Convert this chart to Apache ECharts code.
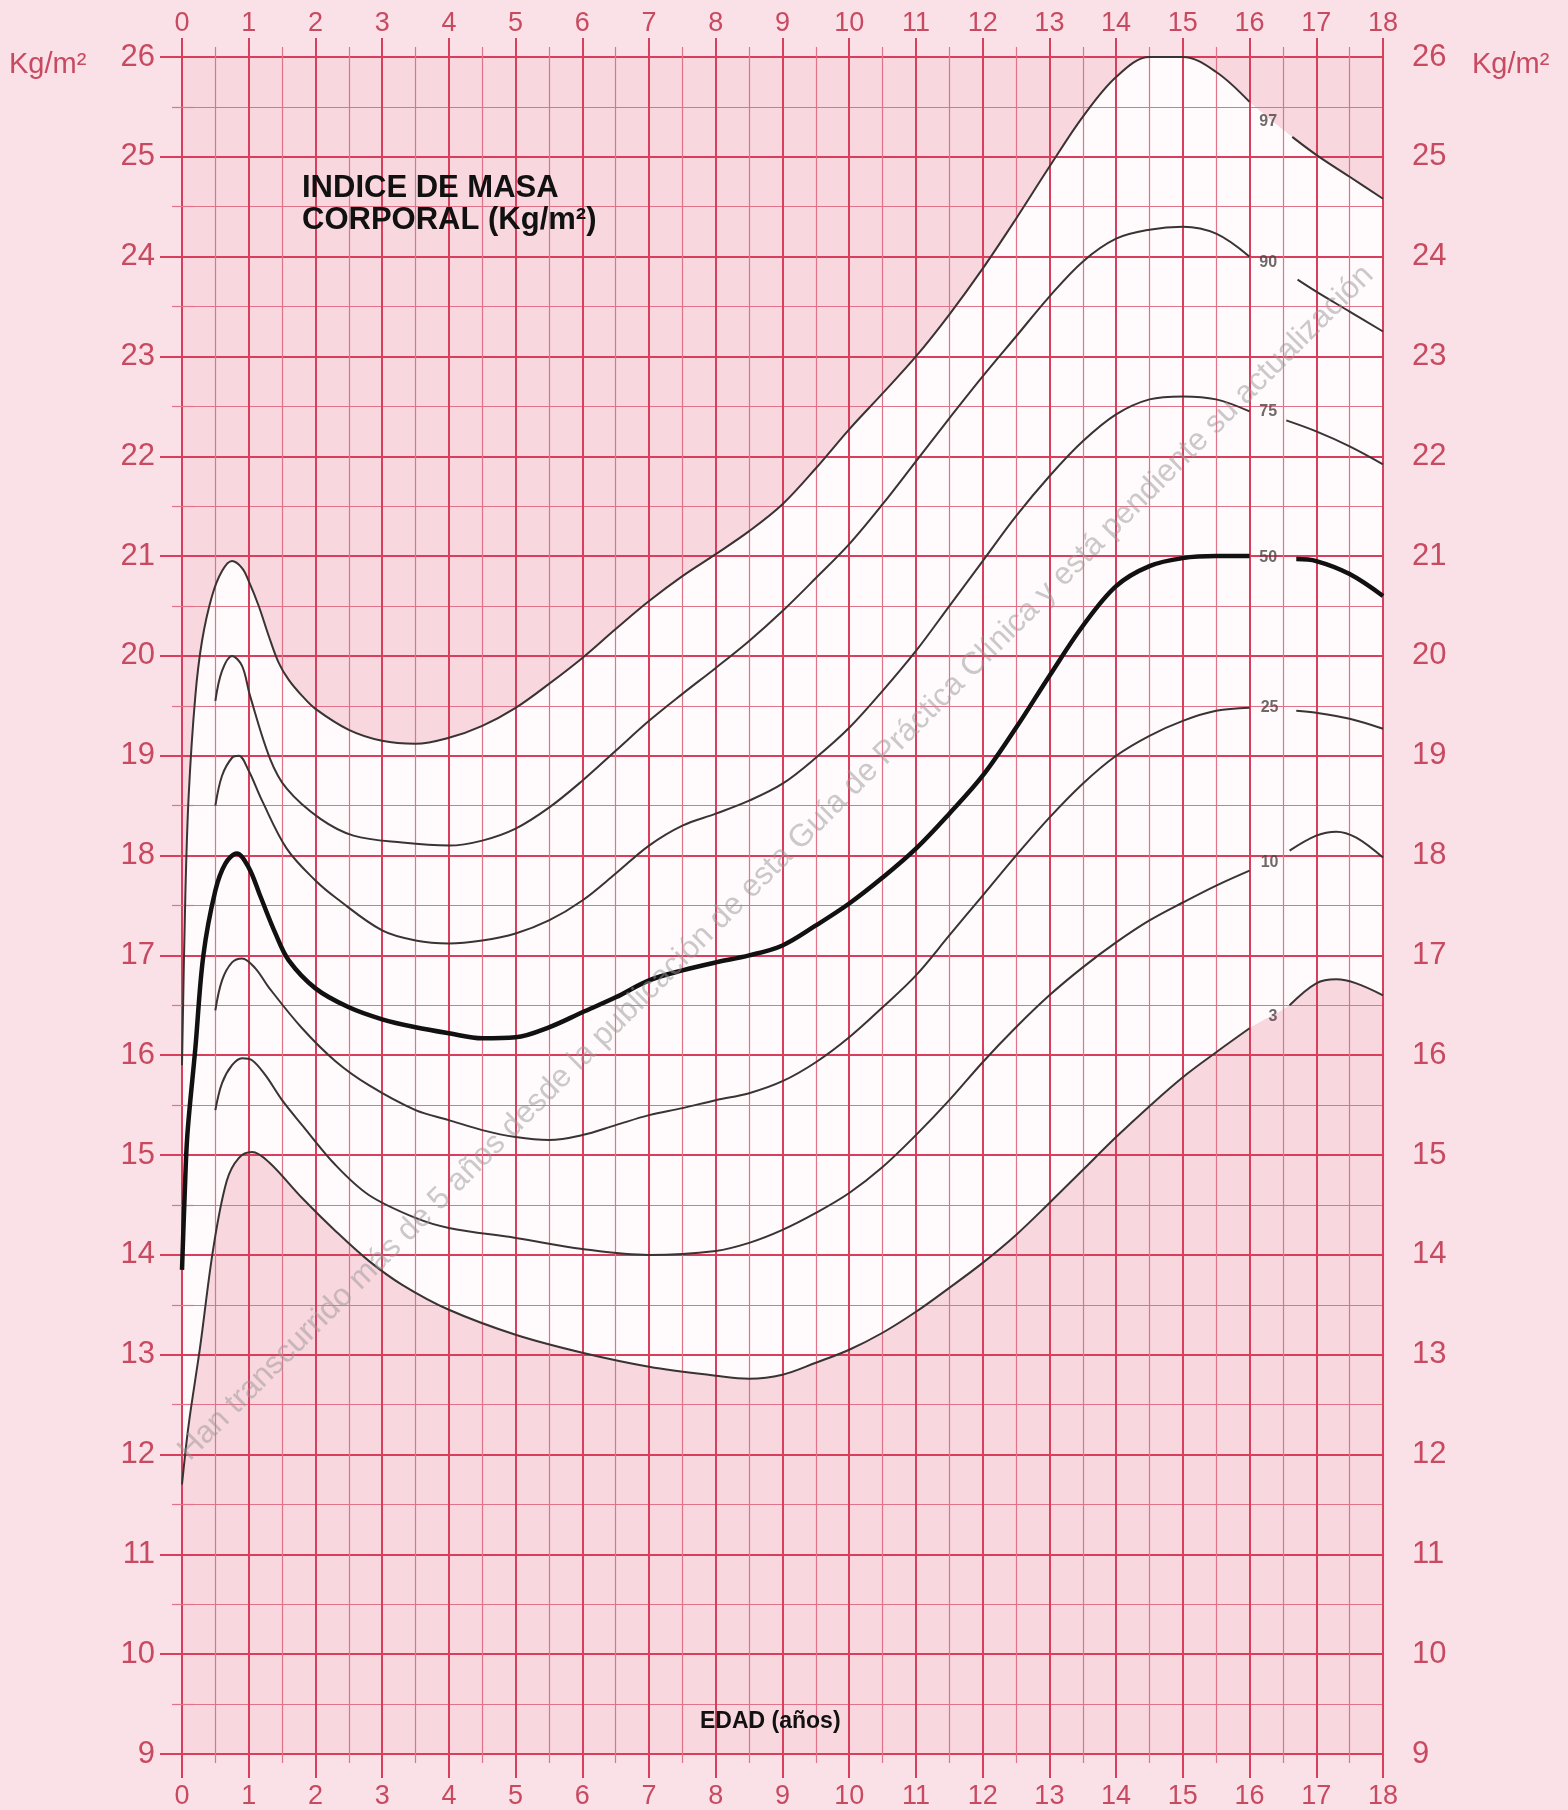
<!DOCTYPE html>
<html>
<head>
<meta charset="utf-8">
<script src="https://cdn.jsdelivr.net/npm/echarts@6/dist/echarts.min.js"></script>
<style>
html,body{margin:0;padding:0;background:#fae0e7;}
#c{width:1568px;height:1810px;}
</style>
</head>
<body>
<div id="c"></div>
<script>
// ---- data (age in years, BMI kg/m2); null = gap for the percentile label ----
const p97 = [[0,15.9],[0.05,17.6],[0.1,18.6],[0.2,19.6],[0.3,20.15],[0.45,20.6],[0.6,20.85],[0.75,20.95],[0.9,20.88],[1.0,20.75],[1.15,20.5],[1.3,20.2],[1.45,19.93],[1.6,19.76],[1.8,19.6],[2,19.47],[2.5,19.26],[3,19.15],[3.5,19.12],[4,19.18],[4.5,19.3],[5,19.48],[5.5,19.72],[6,19.98],[6.5,20.27],[7,20.55],[7.5,20.8],[8,21.02],[8.5,21.25],[9,21.52],[9.5,21.88],[10,22.27],[10.5,22.63],[11,23.0],[11.5,23.42],[12,23.88],[12.5,24.38],[13,24.9],[13.5,25.4],[14,25.8],[14.5,26.0],[15,26.0],[15.5,25.85],[16,25.55],[16.3,null],[16.64,25.2],[17,25.02],[17.5,24.8],[18,24.58]];
const p90 = [[0.5,19.55],[0.6,19.85],[0.75,20.0],[0.9,19.9],[1.02,19.6],[1.32,18.97],[1.57,18.67],[2.07,18.37],[2.57,18.2],[3.3,18.13],[4,18.1],[4.5,18.15],[5,18.27],[5.5,18.48],[6,18.75],[6.5,19.05],[7,19.35],[7.5,19.62],[8,19.88],[8.5,20.15],[9,20.45],[9.5,20.78],[10,21.12],[10.5,21.52],[11,21.95],[11.5,22.38],[12,22.8],[12.5,23.2],[13,23.6],[13.5,23.95],[14,24.18],[14.5,24.27],[15,24.3],[15.5,24.23],[16,24.0],[16.3,null],[16.72,23.77],[17,23.65],[17.5,23.45],[18,23.25]];
const p75 = [[0.5,18.5],[0.6,18.8],[0.75,18.98],[0.85,19.0],[1.0,18.85],[1.2,18.55],[1.57,18.07],[2,17.75],[2.32,17.57],[3,17.25],[3.5,17.15],[4,17.12],[4.5,17.15],[5,17.22],[5.5,17.35],[6,17.55],[6.5,17.82],[7,18.1],[7.5,18.3],[8,18.42],[8.5,18.55],[9,18.72],[9.5,18.98],[10,19.28],[10.5,19.65],[11,20.05],[11.5,20.5],[12,20.95],[12.5,21.4],[13,21.8],[13.5,22.15],[14,22.42],[14.5,22.57],[15,22.6],[15.5,22.57],[16,22.45],[16.3,null],[16.55,22.36],[17,22.25],[17.5,22.1],[18,21.92]];
const p50 = [[0,13.85],[0.04,14.6],[0.08,15.2],[0.2,16.07],[0.32,17.0],[0.5,17.65],[0.65,17.92],[0.82,18.02],[1.0,17.88],[1.17,17.6],[1.4,17.22],[1.6,16.95],[2,16.67],[2.5,16.48],[3,16.36],[3.5,16.28],[4,16.22],[4.5,16.17],[5,16.18],[5.5,16.28],[6,16.43],[6.5,16.58],[7,16.75],[7.5,16.85],[8,16.93],[8.5,17.0],[9,17.1],[9.5,17.3],[10,17.52],[10.5,17.78],[11,18.07],[11.5,18.42],[12,18.8],[12.5,19.28],[13,19.8],[13.5,20.3],[14,20.7],[14.5,20.9],[15,20.98],[15.5,21.0],[16,21.0],[16.3,null],[16.7,20.97],[17,20.95],[17.5,20.82],[18,20.6]];
const p25 = [[0.5,16.45],[0.6,16.75],[0.75,16.93],[0.9,16.97],[1.1,16.87],[1.3,16.68],[1.8,16.27],[2.3,15.94],[2.8,15.7],[3.5,15.45],[4,15.35],[4.5,15.25],[5,15.18],[5.5,15.15],[6,15.2],[6.5,15.3],[7,15.4],[7.5,15.47],[8,15.55],[8.5,15.62],[9,15.74],[9.5,15.93],[10,16.18],[10.5,16.48],[11,16.8],[11.5,17.2],[12,17.6],[12.5,18.0],[13,18.38],[13.5,18.72],[14,19.0],[14.5,19.2],[15,19.35],[15.5,19.45],[16,19.48],[16.3,null],[16.7,19.45],[17,19.43],[17.5,19.37],[18,19.27]];
const p10 = [[0.5,15.45],[0.6,15.72],[0.75,15.9],[0.9,15.97],[1.05,15.95],[1.25,15.8],[1.5,15.55],[1.8,15.3],[2.3,14.9],[2.8,14.6],[3.5,14.37],[4,14.27],[5,14.17],[6,14.06],[7,14.0],[8,14.04],[8.5,14.12],[9,14.25],[9.5,14.42],[10,14.62],[10.5,14.88],[11,15.2],[11.5,15.55],[12,15.93],[12.5,16.28],[13,16.6],[13.5,16.88],[14,17.13],[14.5,17.35],[15,17.53],[15.5,17.7],[16,17.85],[16.3,null],[16.6,18.05],[17,18.2],[17.3,18.24],[17.6,18.18],[18,17.98]];
const p3 = [[0,11.7],[0.1,12.3],[0.27,13.07],[0.47,14.07],[0.67,14.74],[0.85,14.97],[1.05,15.03],[1.3,14.93],[1.8,14.57],[2.3,14.24],[2.8,13.94],[3.3,13.7],[4,13.45],[5,13.2],[6,13.02],[7,12.88],[8,12.79],[8.5,12.76],[9,12.8],[9.5,12.92],[10,13.05],[10.5,13.22],[11,13.43],[11.5,13.67],[12,13.92],[12.5,14.2],[13,14.52],[13.5,14.85],[14,15.18],[14.5,15.49],[15,15.78],[15.5,16.03],[16,16.27],[16.3,null],[16.6,16.5],[17,16.72],[17.3,16.76],[17.6,16.72],[18,16.6]];
const percentileNames = ['97','90','75','50','25','10','3'];
const labelPos = [[16.28,25.35],[16.28,23.94],[16.28,22.45],[16.28,20.99],[16.3,19.48],[16.3,17.93],[16.35,16.39]];
const xTicks = [0,18,1];   // min, max, interval
const yTicks = [9,26,1];
const titleLines = ['INDICE DE MASA','CORPORAL (Kg/m²)'];
const xTitle = 'EDAD (años)';
const unitText = 'Kg/m²';
const watermark = 'Han transcurrido más de 5 años desde la publicación de esta Guía de Práctica Clínica y está pendiente su actualización';

// ---- styles ----
const FONT = 'Liberation Sans, Arial, sans-serif';
const MAJOR = '#d93f5c';
const MINOR = '#e07388';
const LAB = '#c84a60';
const PINK = '#f8d7df';
const WHITE = '#fffafb';
const CURVE = '#3a3333';

const chart = echarts.init(document.getElementById('c'), null, {renderer:'canvas'});

function xAxisDef(pos, tickLen, minorLen, margin, grid){
  return {
    type:'value', min:xTicks[0], max:xTicks[1], interval:xTicks[2], position:pos, z:5,
    axisLine:{show:false},
    axisTick:{show:true, length:tickLen, lineStyle:{color:MAJOR, width:2}},
    minorTick:{show:true, splitNumber:2, length:minorLen, lineStyle:{color:MINOR, width:1.2}},
    axisLabel:{margin:margin, fontSize:27, color:LAB, fontFamily:FONT},
    splitLine:{show:grid, lineStyle:{color:MAJOR, width:2}},
    minorSplitLine:{show:grid, lineStyle:{color:MINOR, width:1.2}}
  };
}
function yAxisDef(pos, tickLen, minorLen, margin, grid){
  return {
    type:'value', min:yTicks[0], max:yTicks[1], interval:yTicks[2], position:pos, z:5,
    axisLine:{show:false},
    axisTick:{show:true, length:tickLen, lineStyle:{color:MAJOR, width:2}},
    minorTick:{show:true, splitNumber:2, length:minorLen, lineStyle:{color:MINOR, width:1.2}},
    axisLabel:{margin:margin, fontSize:31, color:LAB, fontFamily:FONT},
    splitLine:{show:grid, lineStyle:{color:MAJOR, width:2}},
    minorSplitLine:{show:grid, lineStyle:{color:MINOR, width:1.2}}
  };
}

const curves = [p97,p90,p75,p50,p25,p10,p3];
const lineSeries = curves.map((d,i)=>({
  type:'line', name:'P'+percentileNames[i], data:d, smooth:0.35, symbol:'none',
  connectNulls:false, z:10,
  lineStyle:{color: i===3 ? '#111' : CURVE, width: i===3 ? 4.5 : 2}
}));
const noNull = d => d.filter(p => p[1] !== null);

const option = {
  backgroundColor:'#fae0e7',
  animation:false,
  grid:{left:182, right:185, top:57, bottom:56, show:true, backgroundColor:PINK, borderWidth:0},
  xAxis:[ xAxisDef('bottom',24,9,29,true), xAxisDef('top',19,10,20,false) ],
  yAxis:[ yAxisDef('left',22,10,27,true), yAxisDef('right',25,12,29,false) ],
  series:[
    {type:'line', data:noNull(p97), smooth:0.35, symbol:'none', z:1, lineStyle:{width:0},
     areaStyle:{color:WHITE, opacity:1, origin:'start'}},
    {type:'line', data:noNull(p3), smooth:0.35, symbol:'none', z:1, lineStyle:{width:0},
     areaStyle:{color:PINK, opacity:1, origin:'start'}},
    ...lineSeries,
    {type:'scatter', z:12, symbolSize:0, data:labelPos.map((p,i)=>({value:p, name:percentileNames[i]})),
     label:{show:true, position:'inside', formatter:'{b}', fontSize:16, fontWeight:'bold', color:'#4a4444', fontFamily:FONT}}
  ],
  graphic:[
    {type:'text', left:9, top:50, z:20, style:{text:unitText, fontSize:29, fill:LAB, fontFamily:FONT}},
    {type:'text', left:1472, top:50, z:20, style:{text:unitText, fontSize:29, fill:LAB, fontFamily:FONT}},
    {type:'text', left:302, top:172, z:20, style:{text:titleLines.join('\n'), fontSize:31, lineHeight:32, fontWeight:'bold', fill:'#111', fontFamily:FONT}},
    {type:'text', left:700, top:1710, z:20, style:{text:xTitle, fontSize:23, fontWeight:'bold', fill:'#111', fontFamily:FONT}},
    {type:'text', x:776, y:863, rotation:Math.PI/4, z:30,
     style:{text:watermark, fontSize:31.5, fill:'rgba(150,150,150,0.5)', align:'center', verticalAlign:'middle', fontFamily:FONT}}
  ]
};
chart.setOption(option);
</script>
</body>
</html>
